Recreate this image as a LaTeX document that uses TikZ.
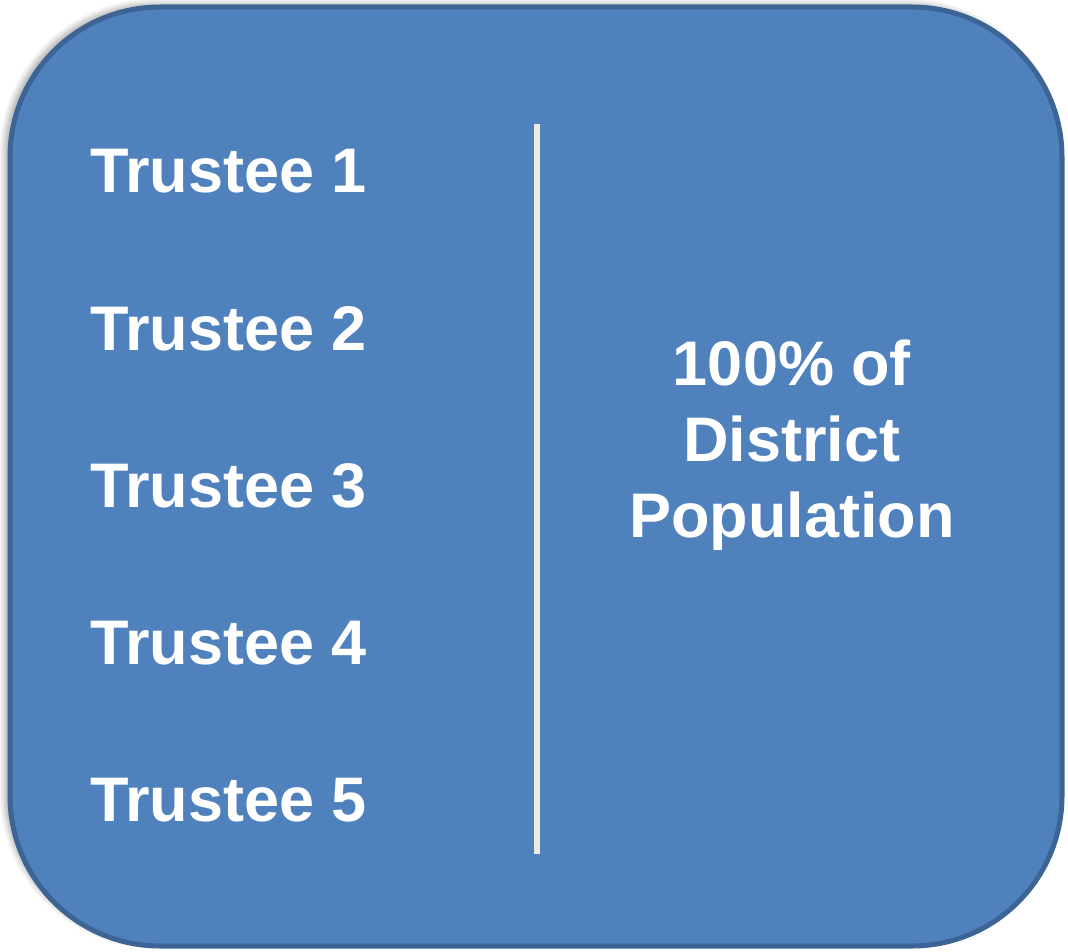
\documentclass[tikz,border=0pt]{standalone}
\usepackage{fontspec}
\setmainfont{Liberation Sans}
\usetikzlibrary{shadows.blur}
\definecolor{boxfill}{HTML}{4F81BD}
\definecolor{boxedge}{HTML}{3C6494}
\definecolor{divider}{HTML}{EEECE1}
\tikzset{
  mainbox/.style={fill=boxfill, draw=boxedge, line width=5pt, rounded corners=150pt,
    blur shadow={shadow xshift=-5pt, shadow yshift=3pt, shadow blur steps=8, shadow blur radius=6pt, shadow opacity=35}},
  label/.style={text=white, font=\fontsize{63}{76}\selectfont\bfseries, inner sep=0pt},
}
\begin{document}
\begin{tikzpicture}[x=1pt,y=-1pt]
\useasboundingbox (0,0) rectangle (1068,952);
\path[mainbox] (10,7) rectangle (1062,946);
\node[coordinate] (top) at (537,124) {};
\node[coordinate] (bot) at (537,854) {};
\draw[divider, line width=6pt] (top) -- (bot);
\node[label, anchor=base west] (t1) at (90,193) {Trustee 1};
\node[label, anchor=base west] (t2) at (90,350) {Trustee 2};
\node[label, anchor=base west] (t3) at (90,507) {Trustee 3};
\node[label, anchor=base west] (t4) at (90,664) {Trustee 4};
\node[label, anchor=base west] (t5) at (90,821) {Trustee 5};
\node[label, anchor=base] (r1) at (792,385) {100\% of};
\node[label, anchor=base] (r2) at (792,461) {District};
\node[label, anchor=base] (r3) at (792,537) {Population};
\end{tikzpicture}
\end{document}
